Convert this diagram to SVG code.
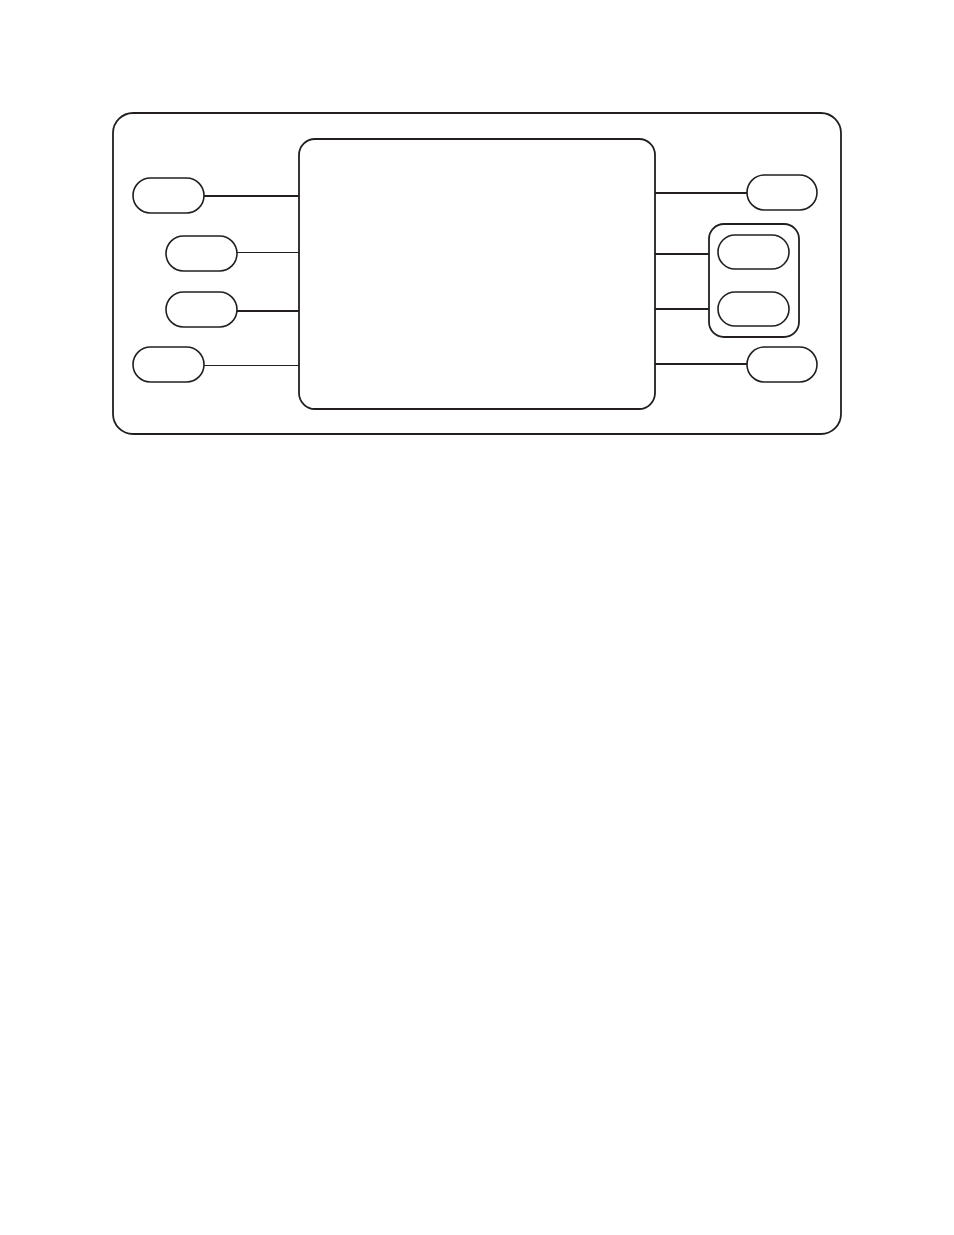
<svg xmlns="http://www.w3.org/2000/svg" width="954" height="1235" viewBox="0 0 954 1235">
<style>
.o{fill:none;stroke:#231f20;stroke-width:1.8}
.b{fill:#fff;stroke:#231f20;stroke-width:1.6}
.thick{stroke:#231f20;stroke-width:2.2;fill:none}
.thin{stroke:#231f20;stroke-width:1.1;fill:none}
</style>
<rect width="954" height="1235" fill="#fff"/>
<g id="panel"><rect class="o" x="113" y="113" width="728" height="321" rx="20"/></g>
<g id="screen"><rect class="o" x="299" y="139" width="356" height="270" rx="16"/></g>
<g id="connectors">
<line class="thick" x1="204" y1="196" x2="299" y2="196"/>
<line class="thin" x1="237" y1="252.5" x2="299" y2="252.5"/>
<line class="thick" x1="237" y1="311" x2="299" y2="311"/>
<line class="thin" x1="204" y1="365.5" x2="299" y2="365.5"/>
<line class="thick" x1="655" y1="193" x2="747" y2="193"/>
<line class="thick" x1="655" y1="254" x2="709" y2="254"/>
<line class="thick" x1="655" y1="309" x2="709" y2="309"/>
<line class="thick" x1="655" y1="364" x2="747" y2="364"/>
</g>
<g id="btn-l1"><rect class="b" x="133" y="178" width="71" height="35" rx="17.5"/></g>
<g id="btn-l2"><rect class="b" x="166" y="236" width="71" height="35" rx="17.5"/></g>
<g id="btn-l3"><rect class="b" x="166" y="292" width="71" height="35" rx="17.5"/></g>
<g id="btn-l4"><rect class="b" x="133" y="347" width="71" height="35" rx="17.5"/></g>
<g id="btn-r1"><rect class="b" x="747" y="175" width="70" height="35" rx="17.5"/></g>
<g id="btn-group"><rect class="o" x="709" y="224" width="90" height="113" rx="15"/></g>
<g id="btn-r2"><rect class="b" x="718" y="235" width="71" height="34" rx="17"/></g>
<g id="btn-r3"><rect class="b" x="718" y="292" width="71" height="34" rx="17"/></g>
<g id="btn-r4"><rect class="b" x="747" y="347" width="70" height="35" rx="17.5"/></g>
</svg>
